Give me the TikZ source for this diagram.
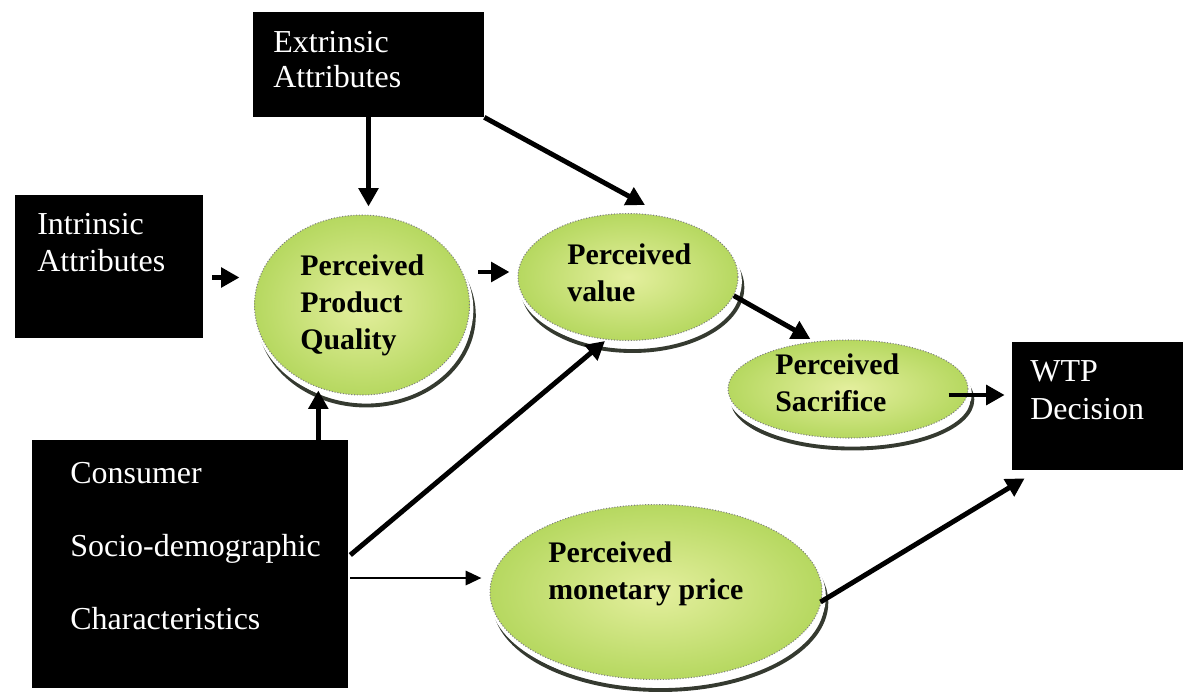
\documentclass[tikz,border=0pt]{standalone}
\usepackage{fontspec}
\setmainfont{Liberation Serif}
\usetikzlibrary{arrows.meta,shapes.geometric,calc}

\definecolor{ellinner}{HTML}{E4EF9E}
\definecolor{ellouter}{HTML}{B6D860}
\definecolor{shadowgrey}{HTML}{353A30}

\tikzset{
  blackbox/.style={draw=none, fill=black, inner sep=0pt},
  boxtext/.style={anchor=base west, inner sep=0pt, text=white, align=left},
  percell/.style={ellipse, inner sep=0pt, draw=black!50, line width=0.6pt, densely dotted,
    shade, inner color=ellinner, outer color=ellouter,
    preaction={draw=shadowgrey, solid, line width=2.2pt, transform canvas={shift={(2.5pt,-6pt)}}},
    preaction={fill=white, draw=white, solid, line width=2.4pt, transform canvas={shift={(1pt,-2.6pt)}}}},
  pertext/.style={anchor=base west, inner sep=0pt, align=left, font=\bfseries\fontsize{17}{21}\selectfont},
  link/.style={line width=2.8pt, -{Triangle[length=10.5pt,width=11pt]}},
}

\begin{document}
\begin{tikzpicture}[x=0.02cm, y=-0.02cm]
\useasboundingbox (0,0) rectangle (1190,694);

% the four perceptions
\node[percell, minimum width=4.3cm, minimum height=3.6cm] (ppq) at (362,305) {};
\node[percell, minimum width=4.4cm, minimum height=2.54cm] (val) at (628,277) {};
\node[percell, minimum width=4.8cm, minimum height=1.96cm] (sac) at (848,389) {};
\node[percell, minimum width=6.64cm, minimum height=3.5cm] (price) at (656,592) {};

% texts sit on the baseline of their last line
\node[pertext] (ppq-txt) at (300,349) {Perceived\\Product\\Quality};
\node[pertext] (val-txt) at (567,301) {Perceived\\value};
\node[pertext] (sac-txt) at (775,411) {Perceived\\Sacrifice};
\node[pertext] (price-txt) at (548,599) {Perceived\\monetary price};

% the black boxes
\node[blackbox, minimum width=4.62cm, minimum height=2.1cm] (ext) at (368.5,64.5) {};
\node[blackbox, minimum width=3.76cm, minimum height=2.86cm] (intr) at (109,266.5) {};
\node[blackbox, minimum width=6.32cm, minimum height=4.96cm] (cons) at (190,564) {};
\node[blackbox, minimum width=3.42cm, minimum height=2.56cm] (wtp) at (1097.5,406) {};

\node[boxtext, font=\fontsize{18.2}{19.8}\selectfont] (ext-txt) at (273,87) {Extrinsic\\Attributes};
\node[boxtext, font=\fontsize{18.2}{21}\selectfont] (intr-txt) at (37,271) {Intrinsic\\Attributes};
\node[boxtext, font=\fontsize{18.2}{41.4}\selectfont] (cons-txt) at (70,629) {Consumer\\Socio-demographic\\Characteristics};
\node[boxtext, font=\fontsize{18.2}{21.5}\selectfont] (wtp-txt) at (1030,419) {WTP\\Decision};

% start points of the arrows
\coordinate (intr-out) at ($(intr.east)+(9,11)$);
\coordinate (ppq-out) at ($(ppq.east)+(8,-33)$);
\coordinate (sac-out) at ($(sac.east)+(-20,6)$);
\coordinate (cons-up) at ($(cons.north east)+(-30,0)$);
\coordinate (cons-val) at ($(cons.east)+(2,-9)$);
\coordinate (cons-price) at ($(cons.east)+(2,14)$);
\coordinate (price-out) at ($(price.east)+(-2,10)$);

% arrows
\draw[link, shorten >=0.16cm] (ext.south) -- (ext.south |- ppq.north);
\draw[link] (ext.south east) -- ($(val.north)+(17,-8)$);
\draw[link, shorten >=0.29cm] (intr-out) -- (intr-out -| ppq.west);
\draw[link, shorten >=0.16cm] (ppq-out) -- (ppq-out -| val.west);
\draw[link, shorten >=0.1cm] (val.-10) -- (sac.125);
\draw[link, shorten >=0.14cm] (sac-out) -- (sac-out -| wtp.west);
\draw[link, shorten >=-0.1cm] (cons-up) -- (cons-up |- ppq.south);
\draw[link] (cons-val) -- ($(val.south)+(-23,0)$);
\draw[line width=1.6pt, -{Triangle[length=9pt,width=8pt]}, shorten >=0.16cm] (cons-price) -- (cons-price -| price.west);
\draw[link] (price-out) -- ($(wtp.south west)+(13,8)$);
\end{tikzpicture}
\end{document}
